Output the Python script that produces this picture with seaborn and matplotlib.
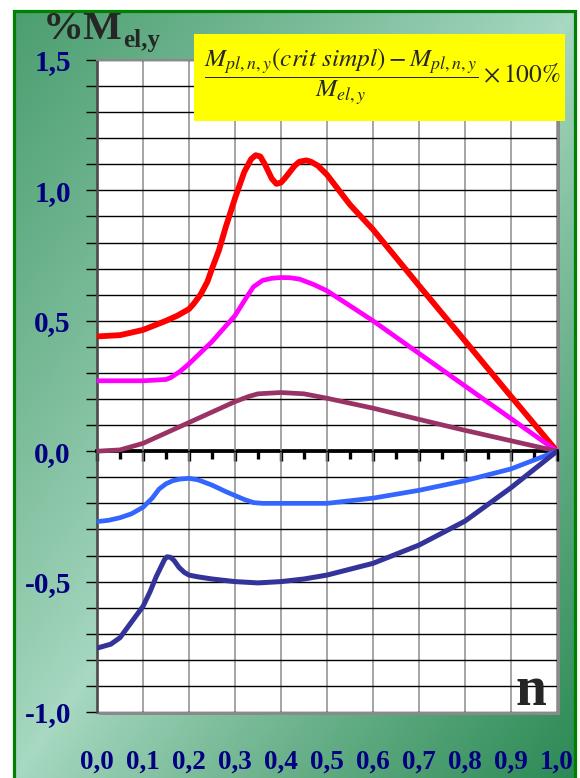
import numpy as np
import pandas as pd
import matplotlib
matplotlib.use("Agg")
import matplotlib.pyplot as plt
import seaborn as sns
from matplotlib.patches import Rectangle
from matplotlib.ticker import FuncFormatter, MultipleLocator

# ---------------- data ----------------
red_x = [0, 0.05, 0.1, 0.15, 0.175, 0.2, 0.21, 0.225, 0.24, 0.25, 0.265, 0.28, 0.3, 0.32,
         0.335, 0.345, 0.355, 0.365, 0.38, 0.39, 0.4, 0.41, 0.43, 0.44, 0.455, 0.465, 0.48,
         0.5, 0.55, 0.6, 0.7, 0.8, 0.9, 1.0]
red_y = [0.44, 0.445, 0.465, 0.50, 0.52, 0.545, 0.565, 0.60, 0.65, 0.70, 0.77, 0.86, 0.97, 1.07,
         1.12, 1.135, 1.13, 1.10, 1.045, 1.025, 1.03, 1.05, 1.095, 1.11, 1.115, 1.11, 1.095,
         1.06, 0.945, 0.85, 0.635, 0.423, 0.21, 0.0]

mag_x = [0, 0.05, 0.1, 0.15, 0.16, 0.18, 0.2, 0.25, 0.3, 0.325, 0.34, 0.36, 0.38, 0.4, 0.42,
         0.44, 0.47, 0.5, 0.6, 0.7, 0.8, 0.9, 1.0]
mag_y = [0.27, 0.27, 0.27, 0.275, 0.282, 0.305, 0.335, 0.42, 0.52, 0.59, 0.63, 0.655, 0.663,
         0.666, 0.665, 0.66, 0.64, 0.615, 0.50, 0.375, 0.25, 0.125, 0.0]

pur_x = [0, 0.05, 0.1, 0.15, 0.2, 0.25, 0.3, 0.33, 0.35, 0.4, 0.45, 0.5, 0.6, 0.7, 0.8, 0.9, 1.0]
pur_y = [0.0, 0.005, 0.03, 0.07, 0.11, 0.15, 0.19, 0.21, 0.22, 0.225, 0.22, 0.203, 0.165,
         0.122, 0.08, 0.04, 0.0]

blu_x = [0, 0.025, 0.05, 0.075, 0.1, 0.12, 0.135, 0.15, 0.165, 0.18, 0.2, 0.22, 0.25, 0.28,
         0.3, 0.32, 0.34, 0.36, 0.4, 0.5, 0.55, 0.6, 0.7, 0.8, 0.9, 1.0]
blu_y = [-0.27, -0.265, -0.255, -0.24, -0.215, -0.18, -0.145, -0.125, -0.113, -0.107, -0.104,
         -0.11, -0.13, -0.155, -0.17, -0.185, -0.197, -0.2, -0.2, -0.2, -0.19, -0.18, -0.15,
         -0.113, -0.068, 0.0]

nav_x = [0, 0.03, 0.05, 0.075, 0.1, 0.115, 0.129, 0.14, 0.147, 0.152, 0.16, 0.168, 0.178,
         0.19, 0.2, 0.22, 0.25, 0.3, 0.35, 0.4, 0.45, 0.5, 0.6, 0.7, 0.8, 0.9, 1.0]
nav_y = [-0.755, -0.74, -0.715, -0.655, -0.595, -0.54, -0.48, -0.44, -0.415, -0.405, -0.407,
         -0.42, -0.445, -0.465, -0.475, -0.482, -0.49, -0.50, -0.505, -0.50, -0.49, -0.475,
         -0.43, -0.36, -0.268, -0.14, 0.0]

series_names = ["red", "magenta", "purple", "blue", "navy"]
series_colors = ["#FF0000", "#FF00FF", "#993366", "#3366FF", "#333399"]
series_lw = [4.2, 3.4, 3.4, 3.4, 3.6]

x_ticks = [0.0, 0.1, 0.2, 0.3, 0.4, 0.5, 0.6, 0.7, 0.8, 0.9, 1.0]
y_ticks = [-1.0, -0.5, 0.0, 0.5, 1.0, 1.5]

frames = []
for name, xs, ys in zip(series_names, [red_x, mag_x, pur_x, blu_x, nav_x],
                        [red_y, mag_y, pur_y, blu_y, nav_y]):
    frames.append(pd.DataFrame({"n": xs, "val": ys, "series": name}))
df = pd.concat(frames, ignore_index=True)

# ---------------- style ----------------
sns.set_style("white")
plt.rcParams["font.family"] = ["Liberation Serif", "DejaVu Serif"]
plt.rcParams["axes.unicode_minus"] = False
plt.rcParams["mathtext.fontset"] = "stix"

W, H = 580, 778
fig = plt.figure(figsize=(W / 100, H / 100), dpi=100)
fig.patch.set_facecolor("white")

def fx(px):
    return px / W

def fy(py):
    return 1 - py / H

# gradient background inside the green frame
bg = fig.add_axes([fx(14), 0, fx(575) - fx(14), fy(11)], zorder=-10)
u = np.linspace(0, 1, 300)[None, :]
v = np.linspace(0, 1, 400)[:, None]
s = u + v - 1.0
t = np.where(s < 0, 0.72 * np.abs(s), np.abs(s))
t = np.clip(t, 0, 1) ** 0.9
dark = np.array([0.17, 0.54, 0.33])
light = np.array([0.66, 0.85, 0.76])
img = light[None, None, :] + (dark - light)[None, None, :] * t[:, :, None]
bg.imshow(img, aspect="auto", extent=[0, 1, 0, 1], origin="upper")
bg.set_axis_off()

fig.add_artist(Rectangle((fx(14), -0.05), fx(575) - fx(14), fy(11) + 0.05,
                         fill=False, ec="#008000", lw=2.3, transform=fig.transFigure))

# shadow of plot area
fig.add_artist(Rectangle((fx(99), fy(715)), fx(560) - fx(99), fy(62) - fy(715),
                         fc="#8a8a8a", ec="none", transform=fig.transFigure, zorder=0.5))

# ---------------- main axes ----------------
ax = fig.add_axes([fx(97), fy(712), fx(557) - fx(97), fy(60) - fy(712)], zorder=1)
ax.set_facecolor("white")

for name, col, lw in zip(series_names, series_colors, series_lw):
    sns.lineplot(data=df[df["series"] == name], x="n", y="val", color=col, lw=lw,
                 sort=False, estimator=None, ax=ax, legend=False,
                 solid_capstyle="round", solid_joinstyle="round", zorder=5)

ax.set_xlim(0, 1.0)
ax.set_ylim(-1.0, 1.5)
ax.set_xlabel("")
ax.set_ylabel("")

comma = FuncFormatter(lambda val, pos: f"{val:.1f}".replace(".", ","))
ax.set_xticks(x_ticks)
ax.set_yticks(y_ticks)
ax.yaxis.set_minor_locator(MultipleLocator(0.1))
ax.xaxis.set_major_formatter(comma)
ax.yaxis.set_major_formatter(comma)

ax.grid(which="both", axis="y", color="black", lw=1.0)
ax.grid(which="major", axis="x", color="#8c8c8c", lw=1.1)
ax.set_axisbelow(True)

ax.tick_params(axis="x", which="both", length=0, pad=27, labelsize=19.5,
               labelcolor="#000080")
ax.tick_params(axis="y", which="both", direction="out", length=7.8, width=1.0,
               color="black", pad=11, labelsize=21, labelcolor="#000080", left=True)
for lab in ax.get_xticklabels() + ax.get_yticklabels():
    lab.set_fontweight("bold")

ax.spines["left"].set_color("#4a4a4a")
ax.spines["left"].set_linewidth(1.9)
ax.spines["top"].set_color("#8a8a8a")
ax.spines["top"].set_linewidth(1.5)
ax.spines["right"].set_visible(False)
ax.spines["bottom"].set_visible(False)

# zero axis with ticks
sec = ax.secondary_xaxis(0.4)
sec.set_alignment("bottom")
sec.set_xticks(x_ticks)
sec.set_xticks([0.05, 0.15, 0.25, 0.35, 0.45, 0.55, 0.65, 0.75, 0.85, 0.95], minor=True)
sec.tick_params(which="major", direction="out", length=7.5, width=2.4, color="black",
                labelbottom=False, labeltop=False)
sec.tick_params(which="minor", direction="out", length=5.5, width=2.4, color="black")
sec.spines["bottom"].set_linewidth(2.7)
sec.spines["bottom"].set_color("black")

# ---------------- texts ----------------
fig.text(fx(43), fy(39), "%M", fontsize=29.5, fontweight="bold", ha="left", va="baseline")
fig.text(fx(123), fy(47), "el,y", fontsize=18, fontweight="bold", ha="left", va="baseline")

fig.add_artist(Rectangle((fx(194), fy(121)), fx(565) - fx(194), fy(34) - fy(121),
                         fc="#FFFF00", ec="none", transform=fig.transFigure, zorder=3))
fig.text(fx(382), fy(77),
         r"$\dfrac{M_{pl,n,y}\left(crit\ simpl\right)-M_{pl,n,y}}{M_{el,y}}\times\mathrm{100\%}$",
         fontsize=18.3, ha="center", va="center", zorder=4)

fig.text(fx(531), fy(705), "n", fontsize=40, fontweight="bold", ha="center",
         va="baseline", zorder=6)

fig.savefig("out.png", dpi=100)
